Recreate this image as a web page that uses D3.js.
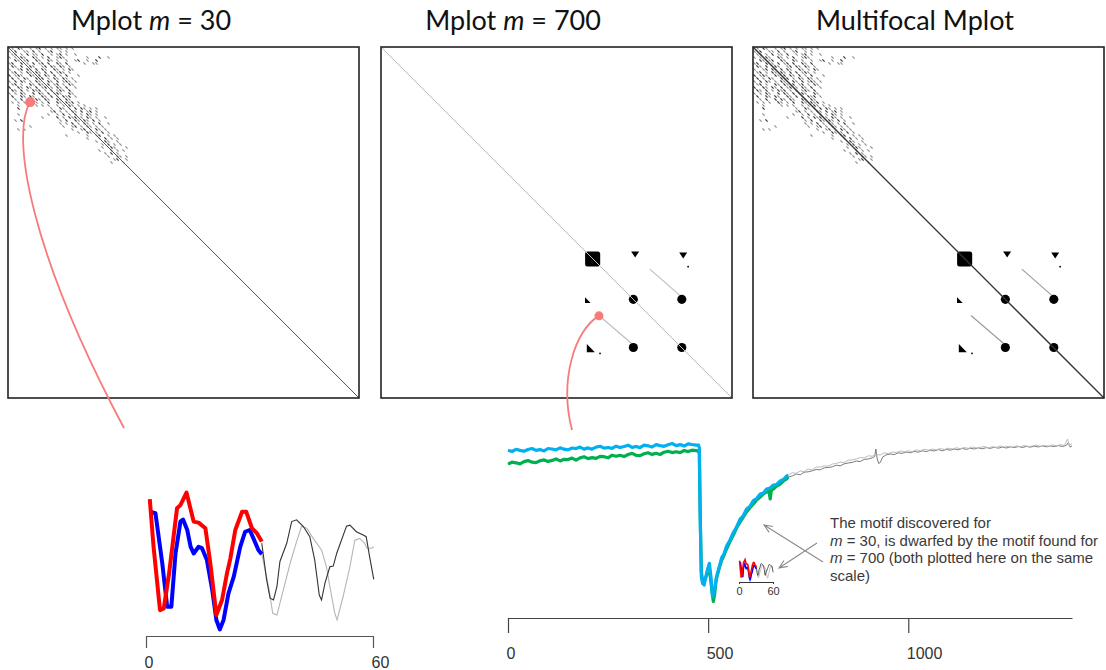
<!DOCTYPE html>
<html><head><meta charset="utf-8">
<script src="https://cdn.jsdelivr.net/npm/d3@7"></script>
<style>
html,body{margin:0;padding:0;background:#fff;}
svg{display:block;}
</style></head><body>
<svg id="fig" width="1106" height="670"></svg>
<script>
// ---------------- data ----------------
const panelTitles = [["Mplot ", "m", " = 30"], ["Mplot ", "m", " = 700"], ["Multifocal Mplot", "", ""]];

// m = 30 Mplot, cells near the start of the series ('x' strong match, 'o' weak match)
const mplot30Rows = [
  ".o.xo..o.ox.o.o.oo.o.o",
  "o.x..oo.x.o..ox..o.o",
  ".ox.o.x.oo.x..o.ox.o..o",
  "o.o.xo..xo.o.x..oxo.......o...x..o",
  "..xo.ox..xo..xo.o..o..ox..o..x",
  "ox..x.o.x.ox.x..xo.x.....o..oo",
  ".xo.x..xo..ox.xo.xo.o",
  "o..ox.xo.x.xo..xo.o.xo",
  ".ox.o.xo.xo.x.x.oxo.o",
  "x.oxo..xo.x.xo.x.o.x...o",
  ".x.o.xo..xox.o.xo.xo.o",
  "o.x.xo.o.xo..xo.x.oxo.o",
  ".ox.o..xo.xo.x.ox.o.xo",
  "x..xo.xo.x.ox.o.xo.x..o",
  ".xo.x.o.xox.o.x.oxo.x",
  "o.o.xo..x.xo.x.oxo..xo",
  ".x..xo.xo..xo.x.o.xox.o",
  "..o.x..x.xo.xo..xo.xo.",
  ".o.o.o..xo.o.x..xo.xox.o",
  "...o.....o.o.o..o.o.xo.o.o",
  "...x..........o..xo.o.x.xo.o.o",
  "..............ox.o.o.xo.x.ox.o",
  "...o.........o..o.x.o.x.o.xo.o",
  "...........o....x.o.xox.o.xo.o..o",
  "..o.x............o.x..xo.xo.x.o",
  ".................o.o.x.o.xo.o.x..o",
  ".......o..........o..ox.o.xo.o.o",
  "...o.o...............o..ox.o.xo.o",
  ".......................o..xo.o.x.o",
  "...................o......o..ox..o.o",
  "..........................o...o.x.o.o",
  ".............................o..xo..o",
  "...............................o.x.o.o",
  "...............................o..xo...o",
  "..............................o...x.o.o",
  "................................o.x.o",
  ".................................o..xo.o",
  "...................................ox..o",
  "..................................o...o"
];
const mplot30Cell = 100 / 117;   // matrix cell size, % of series

// m = 700 Mplot motif regions: [column %, row %, extent %, shape]
const mplot700Blobs = [
  [60.3, 60.4, 4.3, "square"],
  [72.4, 59.0, 1.9, "down"],
  [86.1, 59.3, 1.9, "down"],
  [58.8, 72.2, 1.7, "right"],
  [71.9, 71.9, 2.6, "circle"],
  [85.7, 71.9, 2.6, "circle"],
  [59.6, 85.9, 2.4, "right"],
  [71.9, 85.6, 2.6, "circle"],
  [85.7, 85.6, 2.6, "circle"],
  [87.5, 62.6, 0.5, "circle"],
  [62.4, 87.3, 0.5, "circle"]
];
// off-diagonal match runs: [col0, row0, col1, row1] in %
const mplot700Runs = [[76.6, 63.3, 86.1, 71.6], [62.1, 76.5, 71.9, 84.9]];

// highlighted motif locations [column %, row %]
const motif30Loc = [6.3, 15.7];
const motif700Loc = [62.1, 76.6];

// m = 30 motif pair (thick) and the 30 samples that follow each (thin): [index, z-value]
const motif30A = [[1,1.88],[2,0.52],[3.7,-1.29],[4.7,-1.24],[6.1,-0.24],[8.2,1.62],[9.1,1.71],[10.7,2.07],[12.6,1.24],[13.9,1.21],[15.7,1.05],[17,0.05],[18.6,-1.43],[20.1,-1.0],[21.4,-0.24],[22.3,0.19],[23.6,1.0],[25.4,1.52],[26.5,1.52],[28,1.05],[29.3,0.91],[30.6,0.67]];
const motif30B = [[1,1.52],[2.5,1.48],[4.3,0.05],[5.6,-1.19],[6.7,-1.19],[7.8,0.33],[9.1,1.24],[9.8,1.30],[10.9,1.0],[11.8,0.52],[12.6,0.33],[13.9,0.52],[14.8,0.48],[16.1,0.14],[17.5,-0.71],[18.6,-1.57],[19.5,-1.84],[20.5,-1.57],[21.8,-0.81],[23.2,-0.33],[24.9,0.52],[26.2,0.95],[27.4,1.0],[28.4,0.76],[29.7,0.43],[30.6,0.31]];
const motif30ANext = [[30.6,0.62],[31.9,-0.43],[32.8,-0.95],[33.7,-1.0],[34.6,-0.62],[35.4,0.10],[37.2,0.62],[38.5,1.24],[39.8,1.29],[41.6,1.10],[43.3,0.81],[44.6,0.14],[45.8,-0.86],[46.4,-1.0],[47.3,-0.52],[48.6,-0.05],[49.5,-0.03],[50.4,0.33],[51.2,0.57],[53,1.11],[53.9,1.14],[55.6,0.95],[57.4,0.86],[58.2,0.81],[59.1,0.24],[60.2,-0.41]];
const motif30BNext = [[30.6,0.31],[32.4,-0.62],[33.5,-1.38],[34.6,-1.43],[36.3,-0.71],[38.1,0.05],[39.8,0.67],[41.1,1.10],[42.5,1.05],[44.2,0.76],[46.4,0.43],[47.7,-0.05],[48.6,-0.62],[49.9,-1.38],[50.5,-1.57],[52.1,-0.90],[53.9,-0.05],[55.2,0.71],[56.5,0.76],[57.8,0.62],[58.4,0.48],[59.6,0.48],[60.2,0.52]];

// m = 700 motif pair (thick) and the samples that follow (thin): [index, value]
const motif700A = [[0,15.17],[10,15.05],[20,15.27],[30,15.16],[40,15.07],[50,15.25],[60,15.35],[70,15.16],[80,15.24],[90,15.11],[100,15.35],[110,15.30],[120,15.21],[130,15.42],[140,15.28],[150,15.21],[160,15.40],[170,15.34],[180,15.49],[190,15.29],[200,15.41],[210,15.28],[220,15.49],[230,15.57],[240,15.39],[250,15.45],[260,15.36],[270,15.58],[280,15.45],[290,15.55],[300,15.68],[310,15.46],[320,15.55],[330,15.44],[340,15.68],[350,15.62],[360,15.50],[370,15.74],[380,15.64],[390,15.57],[400,15.73],[410,15.85],[420,15.64],[430,15.74],[440,15.59],[450,15.82],[460,15.75],[470,15.69],[476,15.7],[478,15.4],[480,9.0],[483,2.5],[486,1.87],[490,1.7],[494,2.5],[498,3.2],[503,3.87],[507,2.53],[511,0.53],[514,0.9],[517,1.53],[521,2.53],[527,3.4],[534,4.45],[540,4.85],[546,5.6],[554,6.15],[563,6.95],[571,7.5],[580,8.3],[588,8.65],[596,9.3],[604,9.55],[613,10.15],[621,10.35],[630,10.8],[638,10.9],[646,11.3],[655,11.4],[663,11.7],[671,11.75],[680,12.1],[688,12.25],[696,12.6],[700,12.7]];
const motif700B = [[0,13.79],[10,13.98],[20,13.92],[30,13.81],[40,14.04],[50,14.14],[60,13.98],[70,13.94],[80,14.13],[90,14.21],[100,14.05],[110,14.16],[120,14.31],[130,14.11],[140,14.27],[150,14.24],[160,14.39],[170,14.19],[180,14.41],[190,14.52],[200,14.34],[210,14.44],[220,14.36],[230,14.57],[240,14.53],[250,14.42],[260,14.68],[270,14.57],[280,14.67],[290,14.54],[300,14.75],[310,14.86],[320,14.67],[330,14.64],[340,14.82],[350,14.92],[360,14.76],[370,14.87],[380,14.75],[390,14.98],[400,15.07],[410,14.94],[420,15.03],[430,14.94],[440,15.15],[450,15.04],[460,15.18],[470,15.14],[476,15.05],[478,14.9],[480,9.0],[483,3.0],[487,1.9],[492,2.2],[498,2.9],[503,3.4],[507,2.0],[511,0.6],[513,0.05],[516,0.7],[520,2.2],[527,3.3],[534,4.2],[540,4.7],[546,5.3],[554,6.0],[563,6.7],[571,7.4],[580,8.0],[588,8.5],[596,9.0],[604,9.4],[613,9.8],[621,10.2],[630,10.5],[638,10.8],[646,11.0],[652,11.1],[655,10.3],[658,11.2],[663,11.3],[671,11.6],[680,11.8],[688,12.1],[696,12.3],[700,12.5]];
const motif700ANext = [[700,12.70],[710,12.92],[720,12.88],[730,13.10],[740,13.05],[750,13.30],[760,13.22],[770,13.48],[780,13.50],[790,13.62],[800,13.58],[810,13.80],[820,13.85],[830,13.98],[840,13.95],[850,14.18],[860,14.22],[870,14.30],[880,14.45],[890,14.40],[900,14.62],[910,14.58],[920,14.75],[930,14.70],[940,14.92],[950,14.85],[960,15.00],[970,14.95],[980,15.10],[990,15.02],[1000,15.12],[1010,15.05],[1020,15.22],[1030,15.12],[1040,15.28],[1050,15.18],[1060,15.30],[1070,15.22],[1080,15.35],[1090,15.25],[1100,15.38],[1110,15.30],[1120,15.42],[1130,15.33],[1140,15.45],[1150,15.36],[1160,15.50],[1170,15.40],[1180,15.47],[1190,15.55],[1200,15.42],[1210,15.52],[1220,15.46],[1230,15.60],[1240,15.50],[1250,15.56],[1260,15.48],[1270,15.62],[1280,15.52],[1290,15.66],[1300,15.55],[1310,15.60],[1320,15.70],[1330,15.56],[1340,15.66],[1350,15.58],[1360,15.72],[1370,15.60],[1380,15.75],[1390,15.64],[1398,16.30],[1402,15.62],[1409,15.85]];
const motif700BNext = [[700,12.50],[710,12.60],[720,12.80],[730,12.72],[740,12.98],[750,13.02],[760,13.12],[770,13.25],[780,13.22],[790,13.42],[800,13.45],[810,13.52],[820,13.68],[830,13.62],[840,13.82],[850,13.90],[860,13.96],[870,14.10],[880,14.05],[890,14.26],[900,14.30],[910,14.42],[916,14.55],[919,15.30],[922,14.40],[926,13.85],[930,13.95],[936,14.50],[945,14.72],[955,14.80],[965,14.74],[975,14.92],[985,14.86],[995,15.00],[1005,14.92],[1015,15.06],[1025,14.98],[1035,15.12],[1045,15.04],[1055,15.18],[1065,15.10],[1075,15.24],[1085,15.12],[1095,15.26],[1105,15.18],[1115,15.30],[1125,15.22],[1135,15.36],[1145,15.26],[1155,15.38],[1165,15.30],[1175,15.42],[1185,15.32],[1195,15.44],[1205,15.36],[1215,15.48],[1225,15.38],[1235,15.50],[1245,15.40],[1255,15.52],[1265,15.44],[1275,15.55],[1285,15.45],[1295,15.56],[1305,15.48],[1315,15.58],[1325,15.50],[1335,15.62],[1345,15.52],[1355,15.60],[1365,15.54],[1375,15.64],[1385,15.55],[1395,15.66],[1400,15.95],[1404,15.50],[1409,15.60]];

const motif30Ticks = [0, 60];
const motif700Ticks = [0, 500, 1000];
const noteLines = [["", "The motif discovered for"], ["m", " = 30, is dwarfed by the motif found for"], ["m", " = 700 (both plotted here on the same"], ["", "scale)"]];

// ---------------- drawing ----------------
const svg = d3.select("#fig");
const SANS = "'Liberation Sans', Arial, sans-serif";
const panelX = [8, 381, 753], panelY = 47, panelSize = 351;
const titleX = [151, 513, 915];
const red = "#f77b7b";

panelTitles.forEach((t, i) => {
  const tx = svg.append("text").attr("x", titleX[i]).attr("y", 30)
    .attr("text-anchor", "middle").attr("font-family", "Lato, 'Open Sans', sans-serif")
    .attr("font-size", 27).attr("fill", "#111");
  tx.append("tspan").text(t[0]);
  if (t[1]) tx.append("tspan").attr("font-style", "italic").text(t[1]);
  if (t[2]) tx.append("tspan").text(t[2]);
});

const diagColor = ["#555", "#bbb", "#333"];
const panels = panelX.map((x0, i) => {
  const xs = d3.scaleLinear().domain([0, 100]).range([x0, x0 + panelSize]);
  const ys = d3.scaleLinear().domain([0, 100]).range([panelY, panelY + panelSize]);
  const g = svg.append("g");
  g.append("rect").attr("x", x0).attr("y", panelY).attr("width", panelSize).attr("height", panelSize)
    .attr("fill", "#fff");
  return {g, xs, ys, i};
});

function drawMplot30(p) {
  const cells = [];
  mplot30Rows.forEach((row, r) => row.split("").forEach((ch, c) => {
    if (ch !== ".") cells.push({r, c, strong: ch === "x"});
  }));
  p.g.selectAll("line.m30").data(cells).join("line").attr("class", "m30")
    .attr("x1", d => p.xs(d.c * mplot30Cell) + 0.4).attr("y1", d => p.ys(d.r * mplot30Cell) + 0.4)
    .attr("x2", d => p.xs(d.c * mplot30Cell) + 2.6).attr("y2", d => p.ys(d.r * mplot30Cell) + 2.6)
    .attr("stroke", d => d.strong ? "#3a3a3a" : "#929292").attr("stroke-width", 1.25);
}

function drawMplot700(p, runColor) {
  p.g.selectAll("line.run").data(mplot700Runs).join("line").attr("class", "run")
    .attr("x1", d => p.xs(d[0])).attr("y1", d => p.ys(d[1]))
    .attr("x2", d => p.xs(d[2])).attr("y2", d => p.ys(d[3]))
    .attr("stroke", runColor).attr("stroke-width", 1.1);
  mplot700Blobs.forEach(b => {
    const cx = p.xs(b[0]), cy = p.ys(b[1]);
    const s = p.xs(b[2]) - p.xs(0);
    if (b[3] === "square") {
      p.g.append("rect").attr("x", cx - s / 2).attr("y", cy - s / 2).attr("width", s).attr("height", s)
        .attr("rx", 2.5).attr("fill", "#000");
    } else if (b[3] === "circle") {
      p.g.append("circle").attr("cx", cx).attr("cy", cy).attr("r", s / 2).attr("fill", "#000");
    } else if (b[3] === "down") {
      p.g.append("path").attr("d", `M${cx - s * 0.6},${cy - s * 0.4}L${cx + s * 0.6},${cy - s * 0.4}L${cx},${cy + s * 0.5}Z`)
        .attr("fill", "#000");
    } else {
      p.g.append("path").attr("d", `M${cx - s * 0.4},${cy - s * 0.55}L${cx + s * 0.55},${cy + s * 0.45}L${cx - s * 0.4},${cy + s * 0.45}Z`)
        .attr("fill", "#000");
    }
  });
}

drawMplot30(panels[0]);
drawMplot700(panels[1], "#bdbdbd");
drawMplot30(panels[2]);
drawMplot700(panels[2], "#9a9a9a");

panels.forEach(p => {
  p.g.append("line").attr("x1", p.xs(0)).attr("y1", p.ys(0)).attr("x2", p.xs(100)).attr("y2", p.ys(100))
    .attr("stroke", diagColor[p.i]).attr("stroke-width", p.i === 2 ? 1.3 : 1);
  p.g.append("rect").attr("x", p.xs(0)).attr("y", p.ys(0)).attr("width", panelSize).attr("height", panelSize)
    .attr("fill", "none").attr("stroke", "#222").attr("stroke-width", 1.6);
});

// ---- m = 30 motif plot (bottom left)
const xM = d3.scaleLinear().domain([0, 60]).range([146, 373]);
const yM = d3.scaleLinear().domain([-2, 2]).range([635, 495]);
const lineM = d3.line().x(d => xM(d[0])).y(d => yM(d[1]));
svg.append("path").datum(motif30BNext).attr("d", lineM).attr("fill", "none").attr("stroke", "#b5b5b5").attr("stroke-width", 1.1);
svg.append("path").datum(motif30ANext).attr("d", lineM).attr("fill", "none").attr("stroke", "#333").attr("stroke-width", 1.1);
svg.append("path").datum(motif30B).attr("d", lineM).attr("fill", "none").attr("stroke", "#0000ff").attr("stroke-width", 4).attr("stroke-linejoin", "round");
svg.append("path").datum(motif30A).attr("d", lineM).attr("fill", "none").attr("stroke", "#ff0000").attr("stroke-width", 4).attr("stroke-linejoin", "round");

const axM = svg.append("g").attr("transform", "translate(0,636)")
  .call(d3.axisBottom(xM).tickValues(motif30Ticks).tickSizeInner(12).tickSizeOuter(0).tickPadding(9));
axM.select(".domain").attr("stroke", "#555").attr("stroke-width", 1.2);
axM.selectAll(".tick line").attr("stroke", "#555").attr("stroke-width", 1.2);
axM.selectAll(".tick text").attr("font-family", SANS).attr("font-size", 16).attr("fill", "#333")
  .attr("text-anchor", "start").attr("x", -2);

// ---- m = 700 motif plot (bottom right)
const xT = d3.scaleLinear().domain([0, 1409]).range([508, 1072]);
const yT = d3.scaleLinear().domain([0, 16]).range([602, 442]);
const lineT = d3.line().x(d => xT(d[0])).y(d => yT(d[1]));
svg.append("path").datum(motif700BNext).attr("d", lineT).attr("fill", "none").attr("stroke", "#7a7a7a").attr("stroke-width", 1);
svg.append("path").datum(motif700ANext).attr("d", lineT).attr("fill", "none").attr("stroke", "#bcbcbc").attr("stroke-width", 1);
svg.append("path").datum(motif700B).attr("d", lineT).attr("fill", "none").attr("stroke", "#00b050").attr("stroke-width", 3.2).attr("stroke-linejoin", "round");
svg.append("path").datum(motif700A).attr("d", lineT).attr("fill", "none").attr("stroke", "#00b0f0").attr("stroke-width", 3.2).attr("stroke-linejoin", "round");

const axT = svg.append("g").attr("transform", "translate(0,618)")
  .call(d3.axisBottom(xT).tickValues(motif700Ticks).tickFormat(d3.format("d"))
    .tickSizeInner(15).tickSizeOuter(0).tickPadding(15));
axT.select(".domain").attr("stroke", "#444").attr("stroke-width", 1.2);
axT.selectAll(".tick line").attr("stroke", "#444").attr("stroke-width", 1.2);
axT.selectAll(".tick text").attr("font-family", SANS).attr("font-size", 16).attr("fill", "#333")
  .attr("text-anchor", "start").attr("x", -2);

// ---- the m = 30 motif drawn at the scale of the m = 700 plot
const xI = d3.scaleLinear().domain([0, 60]).range([739, 773]);
const yI = d3.scaleLinear().domain([-2, 2]).range([580.5, 560]);
const lineI = d3.line().x(d => xI(d[0])).y(d => yI(d[1]));
svg.append("path").datum(motif30BNext).attr("d", lineI).attr("fill", "none").attr("stroke", "#b5b5b5").attr("stroke-width", 0.8);
svg.append("path").datum(motif30ANext).attr("d", lineI).attr("fill", "none").attr("stroke", "#333").attr("stroke-width", 0.8);
svg.append("path").datum(motif30B).attr("d", lineI).attr("fill", "none").attr("stroke", "#0000ff").attr("stroke-width", 1.6);
svg.append("path").datum(motif30A).attr("d", lineI).attr("fill", "none").attr("stroke", "#ff0000").attr("stroke-width", 1.6);
const axI = svg.append("g").attr("transform", "translate(0,582)")
  .call(d3.axisBottom(xI).tickValues(motif30Ticks).tickSizeInner(2).tickSizeOuter(0).tickPadding(3));
axI.select(".domain").attr("stroke", "#333");
axI.selectAll(".tick line").attr("stroke", "#333");
axI.selectAll(".tick text").attr("font-family", SANS).attr("font-size", 11).attr("fill", "#333");

// ---- annotation text and arrows
const note = svg.append("text").attr("font-family", SANS).attr("font-size", 15).attr("fill", "#3a3a3a");
noteLines.forEach((l, k) => {
  const t = note.append("tspan").attr("x", 830).attr("y", 528 + k * 17.6);
  if (l[0]) t.append("tspan").attr("font-style", "italic").text(l[0]);
  t.append("tspan").text(l[1]);
});
function arrow(x1, y1, x2, y2) {
  const a = Math.atan2(y2 - y1, x2 - x1), h = 9, w = 0.4;
  svg.append("path")
    .attr("d", `M${x1},${y1}L${x2},${y2}M${x2 - h * Math.cos(a - w)},${y2 - h * Math.sin(a - w)}L${x2},${y2}L${x2 - h * Math.cos(a + w)},${y2 - h * Math.sin(a + w)}`)
    .attr("fill", "none").attr("stroke", "#8a8a8a").attr("stroke-width", 1.1);
}
arrow(823, 562, 764, 525);
arrow(817, 543, 779, 568);

// ---- connectors from the Mplots to the motif plots
const p1 = panels[0], p2 = panels[1];
const c1 = [p1.xs(motif30Loc[0]), p1.ys(motif30Loc[1])];
const c2 = [p2.xs(motif700Loc[0]), p2.ys(motif700Loc[1])];
svg.append("path").attr("d", `M${c1[0]},${c1[1]}C${c1[0] - 20},${c1[1] + 33} ${c1[0]},${c1[1] + 150} 124,428`)
  .attr("fill", "none").attr("stroke", red).attr("stroke-width", 1.8);
svg.append("path").attr("d", `M${c2[0]},${c2[1]}C${c2[0] - 24},${c2[1] + 14} ${c2[0] - 40},${c2[1] + 64} 572,430`)
  .attr("fill", "none").attr("stroke", red).attr("stroke-width", 1.8);
svg.append("circle").attr("cx", c1[0]).attr("cy", c1[1]).attr("r", 5).attr("fill", red);
svg.append("circle").attr("cx", c2[0]).attr("cy", c2[1]).attr("r", 4.5).attr("fill", red);
</script>
</body></html>
